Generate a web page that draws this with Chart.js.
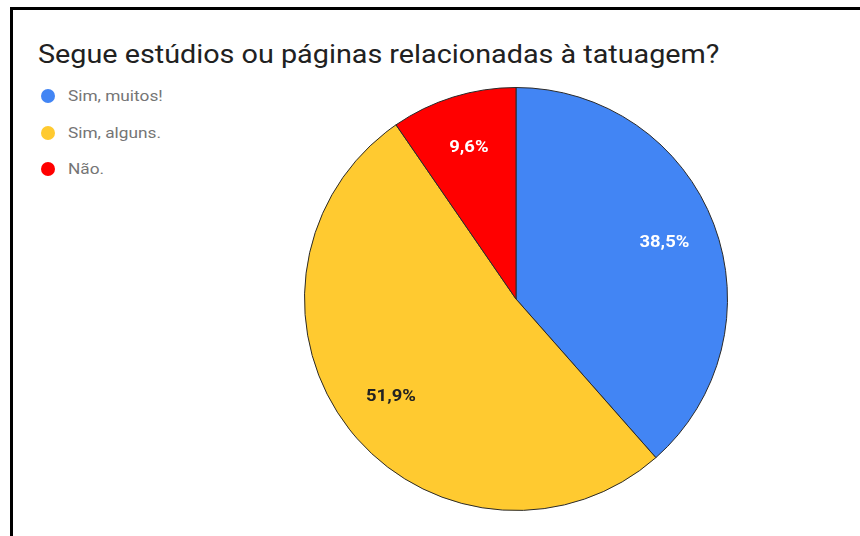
<!DOCTYPE html>
<html lang="pt">
<head>
<meta charset="UTF-8" />
<title>Estúdios e páginas de tatuagem</title>
<script src="https://cdn.jsdelivr.net/npm/chart.js"></script>
<style>
    html, body { margin: 0; padding: 0; background: #fff; }
    body { width: 860px; height: 536px; position: relative; overflow: hidden; font-family: Roboto, sans-serif; }
    .frame { position: absolute; left: 10px; top: 7px; right: 0; bottom: 0; border-top: 3px solid #000; border-left: 3px solid #000; }
    .title { position: absolute; left: 38px; top: 40px; margin: 0; font-size: 25px; line-height: 30px; font-weight: 400; color: #212121; white-space: nowrap; transform: scaleX(1.15); transform-origin: 0 0; }
    .legend { position: absolute; left: 41px; top: 87px; margin: 0; padding: 0; list-style: none; }
    .legend li { height: 36.5px; line-height: 18px; font-size: 15px; color: #757575; display: flex; align-items: flex-start; }
    .legend .dot { width: 14px; height: 14px; border-radius: 50%; margin: 2px 13px 0 0; flex: none; }
    .legend .txt { display: inline-block; transform: scaleX(1.15); transform-origin: 0 0; white-space: nowrap; }
    #pie { position: absolute; left: 0; top: 0; }
</style>
</head>
<body>
    <div class="frame"></div>
    <h1 class="title">Segue estúdios ou páginas relacionadas à tatuagem?</h1>
    <ul class="legend" id="legend"></ul>
    <canvas id="pie" width="860" height="536"></canvas>

<script>
// respostas e percentagens
const labels = ['Sim, muitos!', 'Sim, alguns.', 'Não.'];
const percentages = [38.5, 51.9, 9.6];
const colors = ['#4285F4', '#FFCA30', '#FF0000'];
const labelColors = ['#ffffff', '#222222', '#ffffff'];

// legenda em HTML
const legend = document.getElementById('legend');
labels.forEach((txt, i) => {
    const li = document.createElement('li');
    const dot = document.createElement('span');
    dot.className = 'dot';
    dot.style.background = colors[i];
    const span = document.createElement('span');
    span.className = 'txt';
    span.textContent = txt;
    li.appendChild(dot);
    li.appendChild(span);
    legend.appendChild(li);
});

// escreve a percentagem dentro de cada fatia
const sliceLabels = {
    id: 'sliceLabels',
    afterDatasetsDraw(chart) {
        const ctx = chart.ctx;
        const meta = chart.getDatasetMeta(0);
        meta.data.forEach((arc, i) => {
            const p = arc.getProps(['x', 'y', 'startAngle', 'endAngle', 'outerRadius'], true);
            const mid = (p.startAngle + p.endAngle) / 2;
            const r = p.outerRadius * 0.75;
            ctx.save();
            ctx.translate(p.x + Math.cos(mid) * r, p.y + Math.sin(mid) * r);
            ctx.scale(1.15, 1);
            ctx.font = 'bold 16px Roboto, sans-serif';
            ctx.textAlign = 'center';
            ctx.textBaseline = 'middle';
            ctx.fillStyle = labelColors[i];
            ctx.fillText(percentages[i].toFixed(1).replace('.', ',') + '%', 0, 0);
            ctx.restore();
        });
    }
};

const ctx = document.getElementById('pie').getContext('2d');
new Chart(ctx, {
    type: 'pie',
    data: {
        labels: labels,
        datasets: [{
            data: percentages,
            backgroundColor: colors,
            borderColor: '#2a2a2a',
            borderWidth: 1
        }]
    },
    options: {
        responsive: false,
        animation: false,
        layout: { padding: { left: 304, right: 132, top: 87, bottom: 25 } },
        plugins: {
            legend: { display: false },
            tooltip: { enabled: false }
        }
    },
    plugins: [sliceLabels]
});
</script>
</body>
</html>
